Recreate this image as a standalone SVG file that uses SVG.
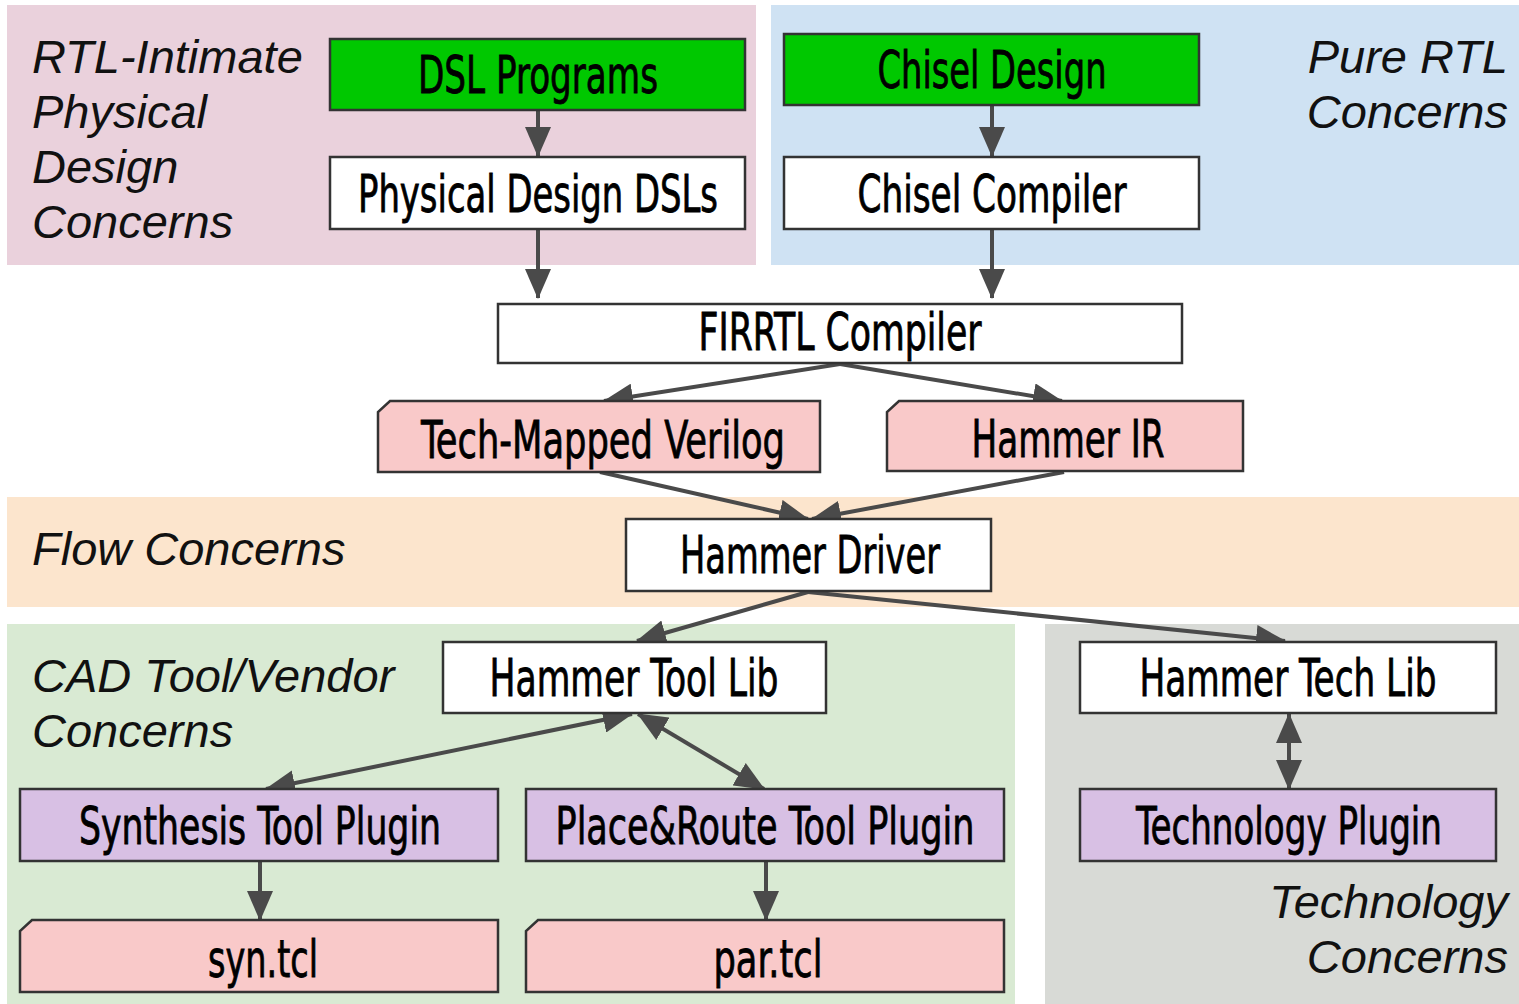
<svg xmlns="http://www.w3.org/2000/svg" width="1519" height="1004" viewBox="0 0 1519 1004">
<style>
.bg{stroke:none}
.lbl{font-family:"Liberation Sans",Arial,sans-serif;font-style:italic;font-size:47px;fill:#111}
.box{stroke:#333;stroke-width:2.5}
.w{fill:#fff}
.g{fill:#00c800}
.p{fill:#f9c9c9}
.v{fill:#d8c0e4}
.t{font-family:"DejaVu Sans Condensed","DejaVu Sans",sans-serif;font-stretch:condensed;font-size:52px;fill:#000;text-anchor:middle;stroke:#000;stroke-width:0.8}
.c{stroke:#4a4a4a;stroke-width:4;fill:none}
</style>
<defs>
<marker id="ah" viewBox="0 0 30 26" refX="29" refY="13" markerWidth="30" markerHeight="26" markerUnits="userSpaceOnUse" orient="auto-start-reverse">
<path d="M0,0 L30,13 L0,26 Z" fill="#4a4a4a"/>
</marker>
</defs>
<rect width="1519" height="1004" fill="#fff"/>
<g id="regions">
<rect class="bg" x="7" y="5" width="749" height="260" fill="#ead1dc"/>
<rect class="bg" x="771" y="5" width="748" height="260" fill="#cfe2f3"/>
<rect class="bg" x="7" y="497" width="1512" height="110" fill="#fce5cd"/>
<rect class="bg" x="7" y="624" width="1008" height="380" fill="#d9ead3"/>
<rect class="bg" x="1045" y="624" width="474" height="380" fill="#d8dad6"/>
<text class="lbl" x="32" y="73">RTL-Intimate</text>
<text class="lbl" x="32" y="128">Physical</text>
<text class="lbl" x="32" y="183">Design</text>
<text class="lbl" x="32" y="238">Concerns</text>
<text class="lbl" x="1508" y="73" text-anchor="end">Pure RTL</text>
<text class="lbl" x="1508" y="128" text-anchor="end">Concerns</text>
<text class="lbl" x="32" y="565">Flow Concerns</text>
<text class="lbl" x="32" y="692">CAD Tool/Vendor</text>
<text class="lbl" x="32" y="747">Concerns</text>
<text class="lbl" x="1508" y="918" text-anchor="end">Technology</text>
<text class="lbl" x="1508" y="973" text-anchor="end">Concerns</text>
</g>
<g id="connectors">
<line class="c" x1="538" y1="110" x2="538" y2="156" marker-end="url(#ah)"/>
<line class="c" x1="538" y1="229" x2="538" y2="298" marker-end="url(#ah)"/>
<line class="c" x1="992" y1="105" x2="992" y2="156" marker-end="url(#ah)"/>
<line class="c" x1="992" y1="229" x2="992" y2="298" marker-end="url(#ah)"/>
<line class="c" x1="840" y1="364" x2="604" y2="401" marker-end="url(#ah)"/>
<line class="c" x1="840" y1="364" x2="1062" y2="401" marker-end="url(#ah)"/>
<line class="c" x1="600" y1="472" x2="808" y2="519" marker-end="url(#ah)"/>
<line class="c" x1="1064" y1="472" x2="812" y2="519" marker-end="url(#ah)"/>
<line class="c" x1="808" y1="592" x2="637" y2="641" marker-end="url(#ah)"/>
<line class="c" x1="808" y1="592" x2="1285" y2="641" marker-end="url(#ah)"/>
<line class="c" x1="632" y1="714" x2="266" y2="789" marker-start="url(#ah)" marker-end="url(#ah)"/>
<line class="c" x1="638" y1="714" x2="764" y2="789" marker-start="url(#ah)" marker-end="url(#ah)"/>
<line class="c" x1="1289" y1="714" x2="1289" y2="789" marker-start="url(#ah)" marker-end="url(#ah)"/>
<line class="c" x1="260" y1="861" x2="260" y2="920" marker-end="url(#ah)"/>
<line class="c" x1="766" y1="861" x2="766" y2="920" marker-end="url(#ah)"/>
</g>
<g id="dsl-programs"><rect class="box g" x="330" y="39" width="415" height="71"/><text class="t" x="538" y="93" textLength="240" lengthAdjust="spacingAndGlyphs">DSL Programs</text></g>
<g id="physical-design-dsls"><rect class="box w" x="330" y="157" width="415" height="72"/><text class="t" x="538" y="212" textLength="360" lengthAdjust="spacingAndGlyphs">Physical Design DSLs</text></g>
<g id="chisel-design"><rect class="box g" x="784" y="34" width="415" height="71"/><text class="t" x="992" y="88" textLength="229" lengthAdjust="spacingAndGlyphs">Chisel Design</text></g>
<g id="chisel-compiler"><rect class="box w" x="784" y="157" width="415" height="72"/><text class="t" x="992" y="212" textLength="269" lengthAdjust="spacingAndGlyphs">Chisel Compiler</text></g>
<g id="firrtl-compiler"><rect class="box w" x="498" y="304" width="684" height="59"/><text class="t" x="840" y="350" textLength="283" lengthAdjust="spacingAndGlyphs">FIRRTL Compiler</text></g>
<g id="tech-mapped-verilog"><path class="box p" d="M390,401 L820,401 L820,472 L378,472 L378,412 Z"/><text class="t" x="603" y="458" textLength="364" lengthAdjust="spacingAndGlyphs">Tech-Mapped Verilog</text></g>
<g id="hammer-ir"><path class="box p" d="M899,401 L1243,401 L1243,471 L887,471 L887,412 Z"/><text class="t" x="1068" y="457" textLength="193" lengthAdjust="spacingAndGlyphs">Hammer IR</text></g>
<g id="hammer-driver"><rect class="box w" x="626" y="519" width="365" height="72"/><text class="t" x="810" y="573" textLength="260" lengthAdjust="spacingAndGlyphs">Hammer Driver</text></g>
<g id="hammer-tool-lib"><rect class="box w" x="443" y="642" width="383" height="71"/><text class="t" x="634" y="696" textLength="289" lengthAdjust="spacingAndGlyphs">Hammer Tool Lib</text></g>
<g id="hammer-tech-lib"><rect class="box w" x="1080" y="642" width="416" height="71"/><text class="t" x="1288" y="696" textLength="297" lengthAdjust="spacingAndGlyphs">Hammer Tech Lib</text></g>
<g id="synthesis-tool-plugin"><rect class="box v" x="20" y="789" width="478" height="72"/><text class="t" x="260" y="844" textLength="362" lengthAdjust="spacingAndGlyphs">Synthesis Tool Plugin</text></g>
<g id="place-route-tool-plugin"><rect class="box v" x="526" y="789" width="478" height="72"/><text class="t" x="765" y="844" textLength="419" lengthAdjust="spacingAndGlyphs">Place&amp;Route Tool Plugin</text></g>
<g id="technology-plugin"><rect class="box v" x="1080" y="789" width="416" height="72"/><text class="t" x="1289" y="844" textLength="306" lengthAdjust="spacingAndGlyphs">Technology Plugin</text></g>
<g id="syn-tcl"><path class="box p" d="M32,920 L498,920 L498,992 L20,992 L20,931 Z"/><text class="t" x="263" y="977" textLength="110" lengthAdjust="spacingAndGlyphs">syn.tcl</text></g>
<g id="par-tcl"><path class="box p" d="M538,920 L1004,920 L1004,992 L526,992 L526,931 Z"/><text class="t" x="768" y="977" textLength="109" lengthAdjust="spacingAndGlyphs">par.tcl</text></g>
</svg>
